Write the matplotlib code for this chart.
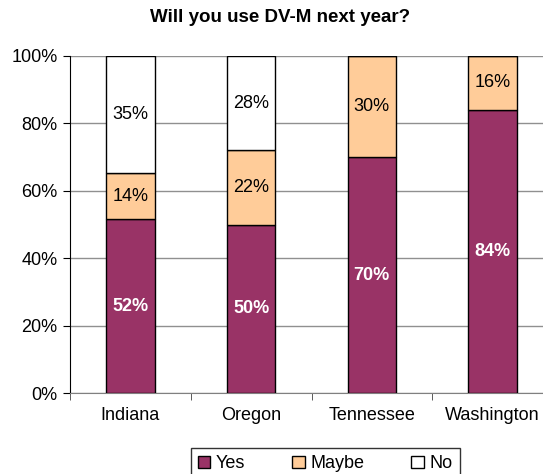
import numpy as np
from matplotlib import pyplot as plt
from matplotlib import rc

rc('font', **{'family': 'sans-serif', 'sans-serif': ['Liberation Sans', 'DejaVu Sans'], 'size': 13})

states = ['Indiana', 'Oregon', 'Tennessee', 'Washington']
yes = [52, 50, 70, 84]
maybe = [14, 22, 30, 16]
no = [35, 28, 0, 0]
series_names = ['Yes', 'Maybe', 'No']
colors = ['#993366', '#FFCC99', '#FFFFFF']

vals = np.array([yes, maybe, no], dtype=float)
frac = vals / vals.sum(axis=0)

fig = plt.figure(figsize=(5.43, 4.74), dpi=100)
ax = fig.add_axes([70/543, 1-393/474, 483/543, 337/474])

x = np.arange(len(states))
bottom = np.zeros(len(states))
for i in range(3):
    ax.bar(x, frac[i], 0.4, bottom=bottom, color=colors[i], edgecolor='black',
           linewidth=1, label=series_names[i], zorder=3)
    for j in range(len(states)):
        if vals[i, j] > 0:
            yc = bottom[j] + frac[i, j] / 2
            if i == 0:
                ax.text(x[j], yc, '%d%%' % vals[i, j], ha='center', va='center',
                        color='white', fontweight='bold', zorder=4)
            else:
                ax.text(x[j], yc, '%d%%' % vals[i, j], ha='center', va='center',
                        color='black', zorder=4)
    bottom = bottom + frac[i]

ax.set_xlim(-0.5, len(states) - 0.5)
ax.set_ylim(0, 1)
ax.set_yticks(np.arange(0, 1.01, 0.2))
ax.set_yticklabels(['%d%%' % v for v in range(0, 101, 20)])
ax.set_xticks(x)
ax.set_xticklabels(states)
ax.set_xticks(np.arange(-0.5, len(states), 1), minor=True)
ax.tick_params(axis='x', which='major', length=0, pad=10)
ax.tick_params(axis='x', which='minor', length=5, color='#404040', direction='out')
ax.tick_params(axis='y', length=5, direction='out', color='black', pad=4)
ax.yaxis.grid(True, color='#909090', linewidth=1, zorder=0)
ax.set_axisbelow(True)
for s in ['top', 'right']:
    ax.spines[s].set_visible(False)
ax.spines['left'].set_color('black')
ax.spines['bottom'].set_color('#808080')

fig.text(280/543, 1-18/474, 'Will you use DV-M next year?', ha='center', va='center',
         fontweight='bold', fontsize=13.5)

leg = fig.legend(loc='upper center', bbox_to_anchor=(325/543, 1-448/474), ncol=3,
                 frameon=True, fancybox=False, edgecolor='black', handlelength=0.7,
                 handleheight=0.7, handletextpad=0.3, columnspacing=2.6,
                 borderpad=0.4, borderaxespad=0)
leg.get_frame().set_linewidth(1)

fig.savefig('out.png', dpi=100)
